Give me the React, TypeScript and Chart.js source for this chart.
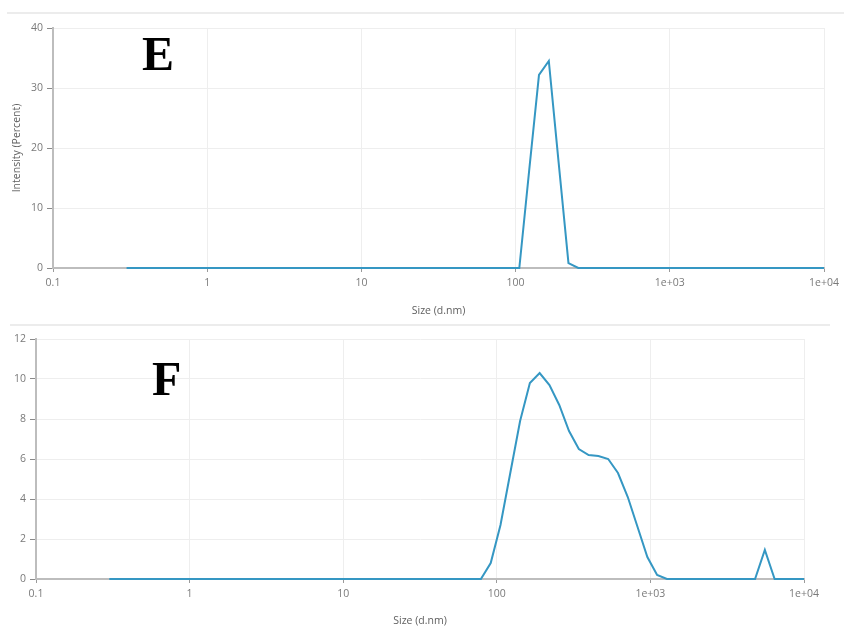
import React, { useEffect, useRef } from "react";
import { Chart, registerables } from "chart.js";

Chart.register(...registerables);

// ---- data ----
const X_TICKS = [0.1, 1, 10, 100, 1000, 10000];
const X_LABELS = ["0.1", "1", "10", "100", "1e+03", "1e+04"];

const E_SIZES = [0.3, 105.7, 122.4, 141.8, 164.2, 190.1, 220.2, 255.0, 10000];
const E_VALUES = [0, 0, 16.2, 32.2, 34.5, 17.6, 0.8, 0, 0];

const F_SIZES = [
  0.3, 78.82, 91.28, 105.7, 122.4, 141.8, 164.2, 190.1, 220.2, 255.0, 295.3,
  342.0, 396.1, 458.7, 531.2, 615.1, 712.4, 825.0, 955.4, 1106, 1281, 4801,
  5560, 6439, 10000,
];
const F_VALUES = [
  0, 0, 0.8, 2.7, 5.3, 7.9, 9.8, 10.3, 9.7, 8.7, 7.4, 6.5, 6.2, 6.15, 6.0,
  5.3, 4.1, 2.6, 1.1, 0.2, 0, 0, 1.45, 0, 0,
];

const E_Y_MAX = 40;
const E_Y_STEP = 10;
const F_Y_MAX = 12;
const F_Y_STEP = 2;

const X_TITLE = "Size (d.nm)";
const Y_TITLE_E = "Intensity (Percent)";

const LINE_COLOR = "#3597c3";
const TICK_FONT = { family: "'Open Sans', 'Noto Sans', sans-serif", size: 10.5 };
const TITLE_FONT = { family: "'Open Sans', 'Noto Sans', sans-serif", size: 10.5 };

type Cfg = {
  sizes: number[];
  values: number[];
  yMax: number;
  yStep: number;
  yTitle: string | null;
  yWidth: number;
  xHeight: number;
  padding: { left: number; right: number; top: number; bottom: number };
  xTitlePadBottom: number;
  letter: string;
  letterX: number;
  letterY: number;
};

function letterPlugin(letter: string, x: number, y: number) {
  return {
    id: "letter_" + letter,
    afterDraw(chart: any) {
      const ctx = chart.ctx;
      ctx.save();
      ctx.font = "bold 48px 'Liberation Serif', 'Times New Roman', serif";
      ctx.fillStyle = "#000";
      ctx.textBaseline = "alphabetic";
      ctx.textAlign = "left";
      ctx.fillText(letter, x, y);
      ctx.restore();
    },
  };
}

function makeConfig(c: Cfg): any {
  return {
    type: "line",
    data: {
      datasets: [
        {
          data: c.sizes.map((s, i) => ({ x: s, y: c.values[i] })),
          borderColor: LINE_COLOR,
          borderWidth: 2,
          pointRadius: 0,
          tension: 0,
          fill: false,
          clip: 4,
        },
      ],
    },
    options: {
      animation: false,
      responsive: false,
      devicePixelRatio: 1,
      layout: { padding: c.padding },
      plugins: {
        legend: { display: false },
        tooltip: { enabled: false },
      },
      scales: {
        x: {
          type: "logarithmic",
          min: 0.1,
          max: 10000,
          afterBuildTicks: (scale: any) => {
            scale.ticks = X_TICKS.map((v) => ({ value: v }));
          },
          afterFit: (scale: any) => {
            scale.height = c.xHeight;
          },
          ticks: {
            autoSkip: false,
            maxRotation: 0,
            minRotation: 0,
            padding: 5,
            color: "#7a7a7a",
            font: TICK_FONT,
            callback: (v: number) => {
              const i = X_TICKS.indexOf(v);
              return i >= 0 ? X_LABELS[i] : "";
            },
          },
          grid: {
            color: "#eeeeee",
            tickColor: "#9a9a9a",
            tickLength: 4,
            lineWidth: 1,
          },
          border: { color: "#bdbdbd", width: 2 },
          title: {
            display: true,
            text: X_TITLE,
            color: "#606060",
            font: TITLE_FONT,
            padding: { top: 0, bottom: c.xTitlePadBottom },
          },
        },
        y: {
          type: "linear",
          min: 0,
          max: c.yMax,
          afterFit: (scale: any) => {
            scale.width = c.yWidth;
          },
          ticks: {
            stepSize: c.yStep,
            padding: 4,
            color: "#7a7a7a",
            font: TICK_FONT,
          },
          grid: {
            color: "#eeeeee",
            tickColor: "#8a8a8a",
            tickLength: 6,
            lineWidth: 1,
          },
          border: { color: "#bdbdbd", width: 2 },
          title: {
            display: !!c.yTitle,
            text: c.yTitle || "",
            color: "#606060",
            font: TITLE_FONT,
            padding: { top: 11, bottom: 0 },
          },
        },
      },
    },
    plugins: [letterPlugin(c.letter, c.letterX, c.letterY)],
  };
}

function ChartCanvas({ cfg, width, height, top }: { cfg: Cfg; width: number; height: number; top: number }) {
  const ref = useRef<HTMLCanvasElement | null>(null);
  useEffect(() => {
    if (!ref.current) return;
    const chart = new Chart(ref.current, makeConfig(cfg));
    return () => chart.destroy();
  }, []);
  return (
    <canvas
      ref={ref}
      width={width}
      height={height}
      style={{ position: "absolute", left: 0, top, width, height }}
    />
  );
}

const TOP_CFG: Cfg = {
  sizes: E_SIZES,
  values: E_VALUES,
  yMax: E_Y_MAX,
  yStep: E_Y_STEP,
  yTitle: Y_TITLE_E,
  yWidth: 53,
  xHeight: 52,
  padding: { left: 0, right: 20, top: 28, bottom: 0 },
  xTitlePadBottom: 3,
  letter: "E",
  letterX: 142,
  letterY: 70,
};

const BOTTOM_CFG: Cfg = {
  sizes: F_SIZES,
  values: F_VALUES,
  yMax: F_Y_MAX,
  yStep: F_Y_STEP,
  yTitle: null,
  yWidth: 36,
  xHeight: 48,
  padding: { left: 0, right: 40, top: 14, bottom: 0 },
  xTitlePadBottom: 0,
  letter: "F",
  letterX: 152,
  letterY: 70,
};

export default function App() {
  return (
    <div style={{ position: "absolute", left: 0, top: 0, width: 844, height: 627, background: "#fff", overflow: "hidden" }}>
      <div style={{ position: "absolute", left: 7, top: 12, width: 837, height: 0, borderTop: "2px solid #ececec" }} />
      <ChartCanvas cfg={TOP_CFG} width={844} height={320} top={0} />
      <div style={{ position: "absolute", left: 10, top: 324, width: 820, height: 0, borderTop: "2px solid #ececec" }} />
      <ChartCanvas cfg={BOTTOM_CFG} width={844} height={302} top={325} />
    </div>
  );
}
